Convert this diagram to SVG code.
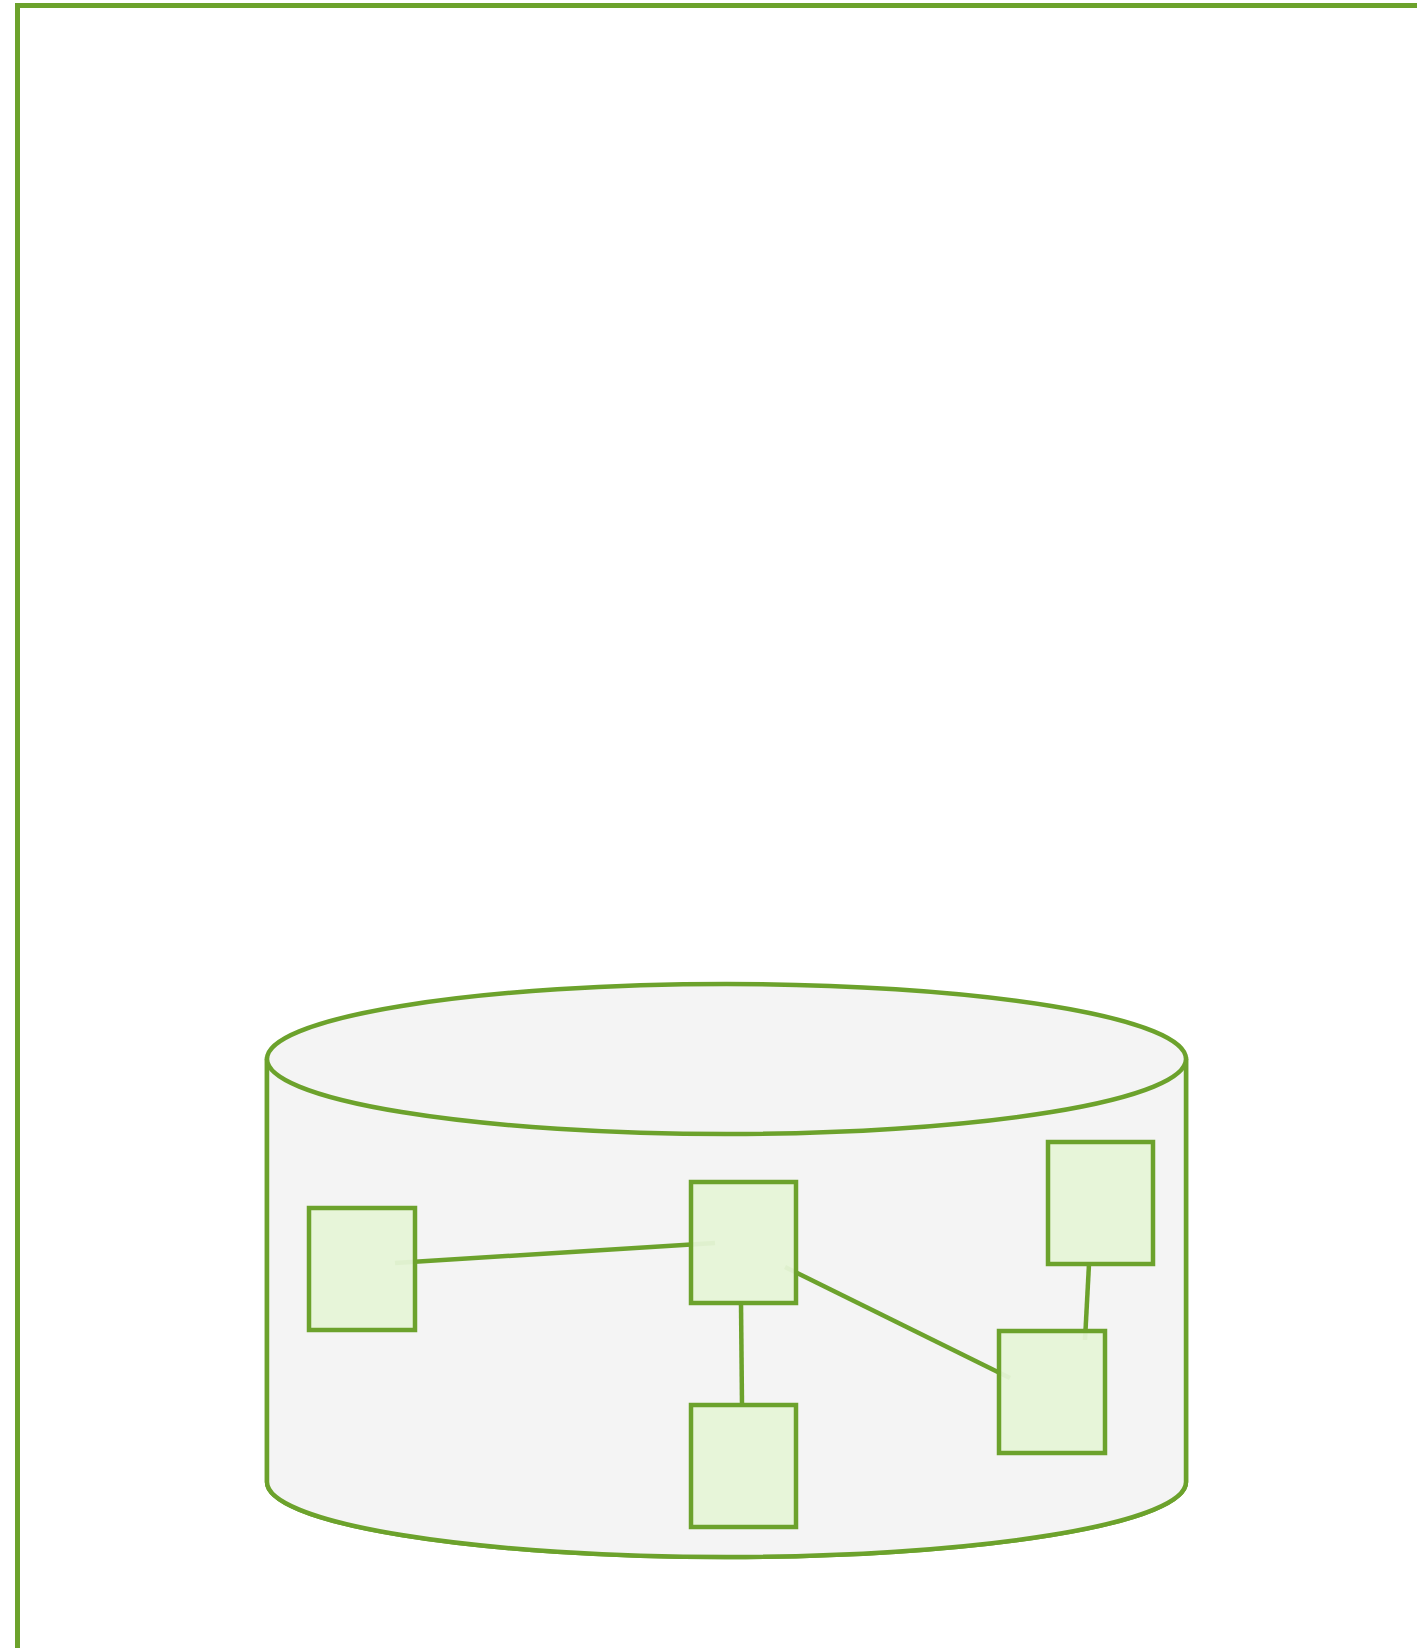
<svg xmlns="http://www.w3.org/2000/svg" width="1417" height="1648" viewBox="0 0 1417 1648">
  <style>
    .frame { fill: #ffffff; stroke: #6ca22c; stroke-width: 5; }
    .cyl { fill: #f4f4f4; stroke: #6ca22c; stroke-width: 4.5; }
    .box { fill: #e6f4d7; fill-opacity: 0.95; stroke: #6ca22c; stroke-width: 4.5; }
    .edge { fill: none; stroke: #6ca22c; stroke-width: 4.5; }
  </style>
  <rect width="1417" height="1648" fill="#ffffff"/>
  <g id="frame">
    <rect class="frame" x="17.5" y="5.5" width="1430" height="1647"/>
  </g>
  <g id="cylinder">
    <path class="cyl" d="M267,1059 L267,1482 A459.5,75 0 0 0 1186,1482 L1186,1059 Z" stroke="none"/>
    <path class="cyl" d="M267,1059 L267,1482 A459.5,75 0 0 0 1186,1482 L1186,1059" fill="none"/>
    <ellipse class="cyl" cx="726.5" cy="1059" rx="459.5" ry="75"/>
  </g>
  <g id="connectors">
    <line class="edge" x1="395" y1="1263" x2="715" y2="1243"/>
    <line class="edge" x1="741" y1="1303" x2="742" y2="1405"/>
    <line class="edge" x1="785" y1="1267" x2="1010" y2="1378"/>
    <line class="edge" x1="1089" y1="1264" x2="1085" y2="1340"/>
  </g>
  <g id="node-a"><rect class="box" x="309" y="1208" width="106" height="122"/></g>
  <g id="node-b"><rect class="box" x="691" y="1182" width="105" height="121"/></g>
  <g id="node-c"><rect class="box" x="1048" y="1142" width="105" height="122"/></g>
  <g id="node-d"><rect class="box" x="691" y="1405" width="105" height="122"/></g>
  <g id="node-e"><rect class="box" x="999" y="1331" width="106" height="122"/></g>
</svg>
